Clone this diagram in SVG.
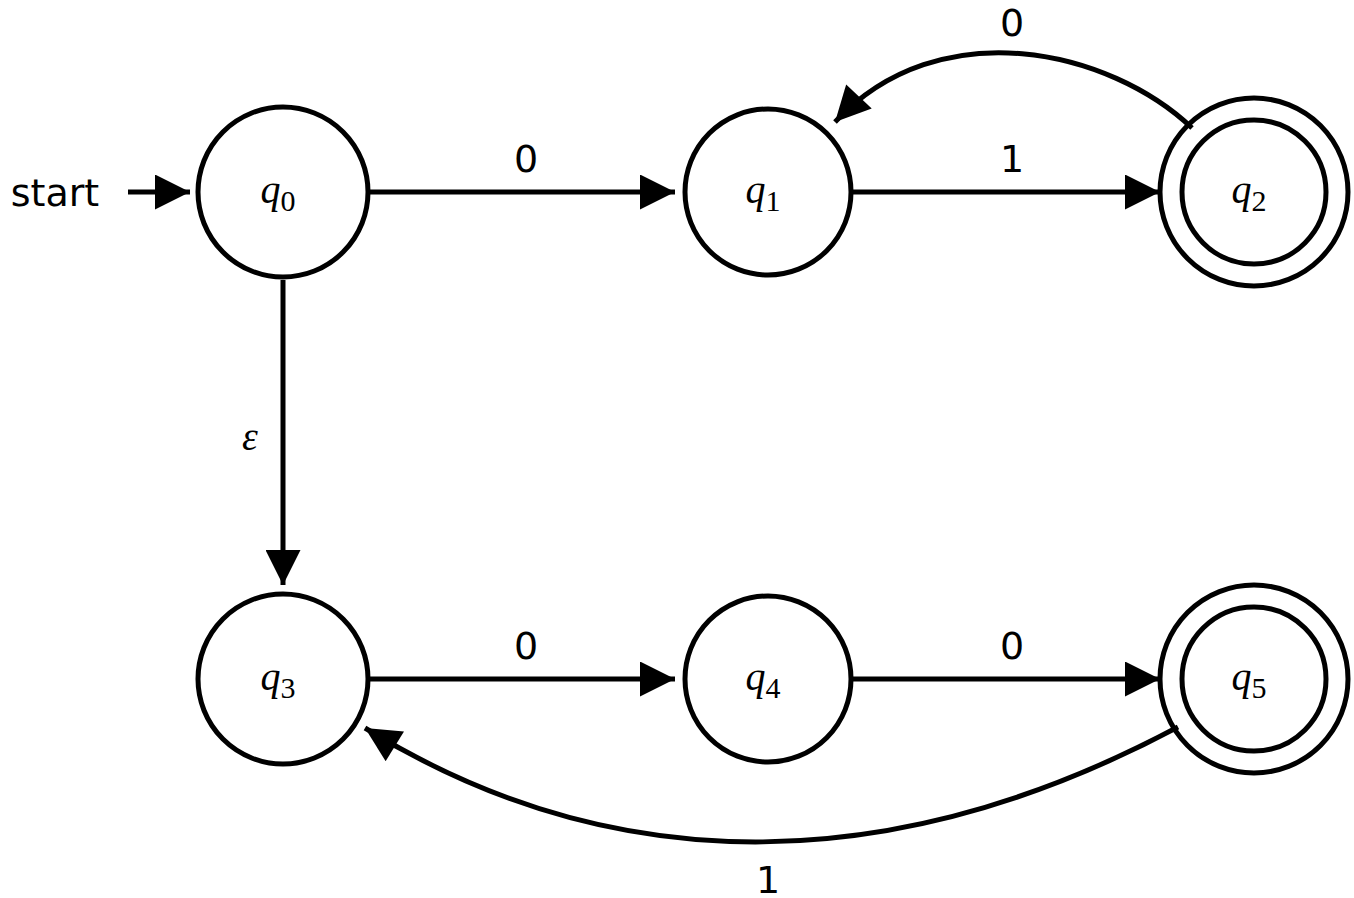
<svg xmlns="http://www.w3.org/2000/svg" width="1354" height="898" viewBox="0 0 1354 898">
<style>
.s{fill:none;stroke:#000;stroke-width:5}
.q{font-family:"Liberation Serif",serif;font-style:italic;font-size:40px;text-anchor:middle}
.sub{font-style:normal;font-size:30px}
.l{font-family:"DejaVu Sans",sans-serif;font-size:38px;text-anchor:middle}
</style>
<defs><marker id="a" viewBox="0 0 10 10" refX="10" refY="5" markerWidth="9" markerHeight="7" markerUnits="strokeWidth" orient="auto"><path d="M0,0L10,5L0,10z"/></marker></defs>
<rect width="1354" height="898" fill="#fff"/>
<g id="q0"><circle class="s" cx="283" cy="192" r="85" fill="#fff"/><text class="q" x="278" y="203">q<tspan class="sub" dy="8">0</tspan></text></g>
<g id="q1"><circle class="s" cx="768" cy="192" r="83"/><text class="q" x="763" y="203">q<tspan class="sub" dy="8">1</tspan></text></g>
<g id="q2"><circle class="s" cx="1254" cy="192" r="94"/><circle class="s" cx="1254" cy="192" r="72"/><text class="q" x="1249" y="203">q<tspan class="sub" dy="8">2</tspan></text></g>
<g id="q3"><circle class="s" cx="283" cy="679" r="85"/><text class="q" x="278" y="690">q<tspan class="sub" dy="8">3</tspan></text></g>
<g id="q4"><circle class="s" cx="768" cy="679" r="83"/><text class="q" x="763" y="690">q<tspan class="sub" dy="8">4</tspan></text></g>
<g id="q5"><circle class="s" cx="1254" cy="679" r="94"/><circle class="s" cx="1254" cy="679" r="72"/><text class="q" x="1249" y="690">q<tspan class="sub" dy="8">5</tspan></text></g>
<g id="edges">
<path class="s" d="M128,192H190" marker-end="url(#a)"/>
<path class="s" d="M368,192H675" marker-end="url(#a)"/>
<path class="s" d="M853,192H1160" marker-end="url(#a)"/>
<path class="s" d="M283,280V585" marker-end="url(#a)"/>
<path class="s" d="M368,679H675" marker-end="url(#a)"/>
<path class="s" d="M853,679H1160" marker-end="url(#a)"/>
<path class="s" d="M1192,128C1110,50 940,10 835,122" marker-end="url(#a)"/>
<path class="s" d="M1178,727C900,875 620,885 365,728" marker-end="url(#a)"/>
</g>
<text class="l" x="55" y="206">start</text>
<text class="l" x="526" y="172">0</text>
<text class="l" x="1012" y="172">1</text>
<text class="l" x="1012" y="36">0</text>
<text class="l" x="526" y="659">0</text>
<text class="l" x="1012" y="659">0</text>
<text class="l" x="768" y="893" font-size="36">1</text>
<text class="q" x="250" y="450">ε</text>
</svg>
